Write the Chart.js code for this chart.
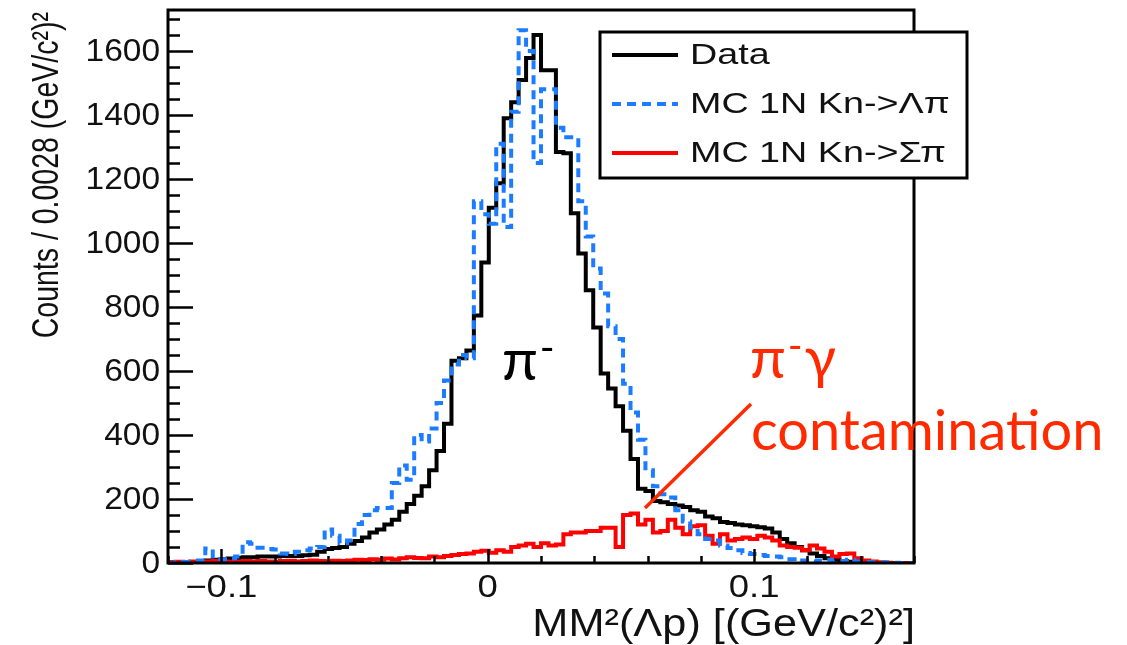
<!DOCTYPE html>
<html>
<head>
<meta charset="utf-8">
<script src="https://cdn.jsdelivr.net/npm/chart.js@4.4.0/dist/chart.umd.min.js"></script>
<style>
  html, body { margin: 0; padding: 0; background: #fff; }
  #wrap { width: 1127px; height: 645px; position: relative; }
</style>
</head>
<body>
<div id="wrap"><canvas id="mmChart"></canvas></div>
<script>
// MM^2(Λp) histogram binning: 100 bins of 0.0028 (GeV/c^2)^2
const binLow = -0.12;
const binWidth = 0.0028;
const xMax = 0.16;
const yMax = 1728;
const xMinorStep = 0.02;
const yMinorStep = 50;

// counts per bin, left to right
const dataCounts = [
  0, 0, 2, 3, 4, 8, 10, 12, 14, 16,
  18, 18, 20, 20, 20, 22, 22, 22, 24, 26,
  35, 44, 47, 50, 60, 69, 80, 95, 105, 120,
  135, 160, 184, 210, 240, 290, 350, 435, 632, 640,
  664, 773, 939, 1110, 1187, 1390, 1440, 1509, 1578, 1650,
  1540, 1540, 1284, 1280, 1093, 967, 852, 736, 592, 545,
  490, 413, 325, 232, 225, 194, 190, 184, 180, 175,
  165, 160, 145, 140, 128, 125, 120, 118, 115, 112,
  108, 95, 75, 62, 50, 40, 30, 22, 15, 10,
  6, 4, 3, 2, 1, 0, 0, 0, 0, 0
];
const mcLambdaPi = [
  0, 2, 3, 5, 8, 45, 20, 12, 15, 20,
  65, 60, 48, 44, 42, 30, 28, 35, 40, 45,
  50, 105, 85, 62, 70, 122, 150, 165, 172, 172,
  250, 305, 260, 400, 380, 420, 500, 570, 620, 650,
  640, 1130, 1090, 1060, 1310, 1050, 1410, 1665, 1600, 1250,
  1480, 1480, 1360, 1330, 1330, 1130, 1020, 920, 842, 740,
  700, 560, 470, 385, 290, 240, 215, 205, 165, 130,
  110, 90, 75, 70, 55, 47, 40, 31, 28, 25,
  22, 20, 18, 12, 6, 8, 5, 8, 10, 5,
  6, 10, 5, 3, 2, 0, 2, 1, 0, 0
];
const mcSigmaPi = [
  3, 4, 3, 5, 4, 5, 6, 5, 4, 5,
  6, 5, 6, 5, 4, 6, 7, 5, 6, 8,
  6, 5, 7, 6, 8, 10, 9, 12, 10, 14,
  11, 15, 18, 16, 15, 20, 18, 22, 25, 28,
  30, 35, 38, 32, 40, 35, 50, 55, 60, 50,
  62, 55, 58, 90, 95, 95, 100, 100, 110, 110,
  50, 150, 155, 120, 135, 95, 100, 135, 110, 90,
  115, 118, 85, 60, 90, 70, 75, 80, 75, 85,
  80, 70, 55, 50, 48, 40, 55, 45, 35, 20,
  28, 30, 15, 8, 5, 2, 1, 0, 0, 0
];

// step points at bin low edges, plus the closing edge of the last bin
function toSteps(counts) {
  const pts = counts.map((c, i) => ({ x: binLow + i * binWidth, y: c }));
  pts.push({ x: binLow + counts.length * binWidth, y: counts[counts.length - 1] });
  return pts;
}

function drawText(ctx, str, x, y, sx, align) {
  ctx.save();
  ctx.translate(x, y);
  ctx.scale(sx, 1);
  ctx.textAlign = align;
  ctx.fillText(str, 0, 0);
  ctx.restore();
}

const AXIS_FONT = '"Liberation Sans", Arial, Helvetica, sans-serif';
const NOTE_FONT = 'Lato, "Open Sans", "Noto Sans", sans-serif';

// ROOT-like frame, inward ticks, labels, legend and notes
const rootFrame = {
  id: 'rootFrame',
  afterDraw(chart) {
    const ctx = chart.ctx;
    const a = chart.chartArea;
    const xs = chart.scales.x, ys = chart.scales.y;
    ctx.save();

    // frame
    ctx.strokeStyle = '#000';
    ctx.lineWidth = 3;
    ctx.strokeRect(a.left, a.top, a.right - a.left, a.bottom - a.top);

    // y ticks
    ctx.lineWidth = 2.5;
    ctx.beginPath();
    for (let v = 0; v <= yMax; v += yMinorStep) {
      const py = Math.round(ys.getPixelForValue(v)) + 0.5;
      const len = v % 200 === 0 ? 25 : 12;
      ctx.moveTo(a.left, py);
      ctx.lineTo(a.left + len, py);
    }
    // x ticks
    for (let k = Math.ceil(binLow / xMinorStep); k * xMinorStep <= xMax + 1e-9; k++) {
      const v = k * xMinorStep;
      const px = Math.round(xs.getPixelForValue(v)) + 0.5;
      const len = k % 5 === 0 ? 14 : 7;
      ctx.moveTo(px, a.bottom);
      ctx.lineTo(px, a.bottom - len);
    }
    ctx.stroke();

    // tick labels
    ctx.fillStyle = '#111';
    ctx.font = '31px ' + AXIS_FONT;
    ctx.textBaseline = 'middle';
    ys.ticks.forEach(t => {
      drawText(ctx, String(t.value), 160, ys.getPixelForValue(t.value) + 1, 1.08, 'right');
    });
    ctx.textBaseline = 'alphabetic';
    xs.ticks.forEach(t => {
      const lab = Math.abs(t.value) < 1e-9 ? '0' : t.value.toFixed(1).replace('-', '\u2212');
      drawText(ctx, lab, xs.getPixelForValue(t.value), 597, 1.18, 'center');
    });

    // axis titles
    ctx.font = '38px ' + AXIS_FONT;
    drawText(ctx, 'MM\u00b2(\u039bp) [(GeV/c\u00b2)\u00b2]', 915, 636, 1.14, 'right');
    ctx.save();
    ctx.translate(58, 12);
    ctx.rotate(-Math.PI / 2);
    ctx.scale(1, 1.28);
    ctx.font = '28.5px ' + AXIS_FONT;
    ctx.textAlign = 'right';
    ctx.fillText('Counts / 0.0028 (GeV/c\u00b2)\u00b2', 0, 0);
    ctx.restore();

    // legend box
    const box = { l: 600, t: 32, r: 967, b: 178 };
    ctx.fillStyle = '#fff';
    ctx.fillRect(box.l, box.t, box.r - box.l, box.b - box.t);
    ctx.strokeStyle = '#000';
    ctx.lineWidth = 3;
    ctx.strokeRect(box.l, box.t, box.r - box.l, box.b - box.t);
    const order = [2, 0, 1];
    const rowY = [55, 104, 153];
    ctx.font = '29px ' + AXIS_FONT;
    ctx.textBaseline = 'middle';
    order.forEach((di, r) => {
      const ds = chart.data.datasets[di];
      ctx.strokeStyle = ds.borderColor;
      ctx.lineWidth = ds.borderWidth;
      ctx.setLineDash(ds.borderDash || []);
      ctx.beginPath();
      ctx.moveTo(612, rowY[r]);
      ctx.lineTo(678, rowY[r]);
      ctx.stroke();
      ctx.setLineDash([]);
      ctx.fillStyle = '#111';
      drawText(ctx, ds.label, 690, rowY[r] + 1, 1.3, 'left');
    });

    // notes
    ctx.textBaseline = 'alphabetic';
    ctx.textAlign = 'left';
    ctx.fillStyle = '#000';
    ctx.font = '58px ' + NOTE_FONT;
    ctx.fillText('\u03c0', 502, 380);
    let w = ctx.measureText('\u03c0').width;
    ctx.font = '40px ' + NOTE_FONT;
    ctx.fillText('-', 502 + w + 2, 362);

    const red = '#ff2a00';
    ctx.fillStyle = red;
    ctx.font = '58px ' + NOTE_FONT;
    ctx.fillText('\u03c0', 750, 378);
    w = ctx.measureText('\u03c0').width;
    ctx.font = '40px ' + NOTE_FONT;
    ctx.fillText('-', 750 + w + 2, 360);
    const w2 = ctx.measureText('-').width;
    ctx.font = '58px ' + NOTE_FONT;
    ctx.fillText('\u03b3', 750 + w + w2 + 4, 378);
    ctx.font = '56px ' + NOTE_FONT;
    ctx.fillText('contamination', 751, 450);

    ctx.strokeStyle = red;
    ctx.lineWidth = 3.5;
    ctx.beginPath();
    ctx.moveTo(645, 508);
    ctx.lineTo(751, 404);
    ctx.stroke();

    ctx.restore();
  }
};

const ctx = document.getElementById('mmChart').getContext('2d');
new Chart(ctx, {
  type: 'line',
  data: {
    datasets: [
      {
        label: 'MC 1N Kn->\u039b\u03c0',
        data: toSteps(mcLambdaPi),
        borderColor: '#1c7cff',
        borderDash: [9, 6],
        borderWidth: 4,
        stepped: true,
        pointRadius: 0,
        fill: false,
        order: 0
      },
      {
        label: 'MC 1N Kn->\u03a3\u03c0',
        data: toSteps(mcSigmaPi),
        borderColor: '#ff0000',
        borderWidth: 4,
        stepped: true,
        pointRadius: 0,
        fill: false,
        order: 1
      },
      {
        label: 'Data',
        data: toSteps(dataCounts),
        borderColor: '#000000',
        borderWidth: 4,
        stepped: true,
        pointRadius: 0,
        fill: false,
        order: 2
      }
    ]
  },
  options: {
    responsive: true,
    maintainAspectRatio: false,
    animation: false,
    devicePixelRatio: 1,
    layout: { padding: { left: 168, top: 10, right: 213, bottom: 82 } },
    plugins: { legend: { display: false }, tooltip: { enabled: false } },
    scales: {
      x: {
        type: 'linear',
        min: binLow,
        max: xMax,
        ticks: { display: false, stepSize: 0.1, includeBounds: false },
        grid: { display: false },
        border: { display: false },
        afterFit: s => { s.height = 0; }
      },
      y: {
        min: 0,
        max: yMax,
        ticks: { display: false, stepSize: 200, includeBounds: false },
        grid: { display: false },
        border: { display: false },
        afterFit: s => { s.width = 0; }
      }
    }
  },
  plugins: [rootFrame]
});
</script>
</body>
</html>
